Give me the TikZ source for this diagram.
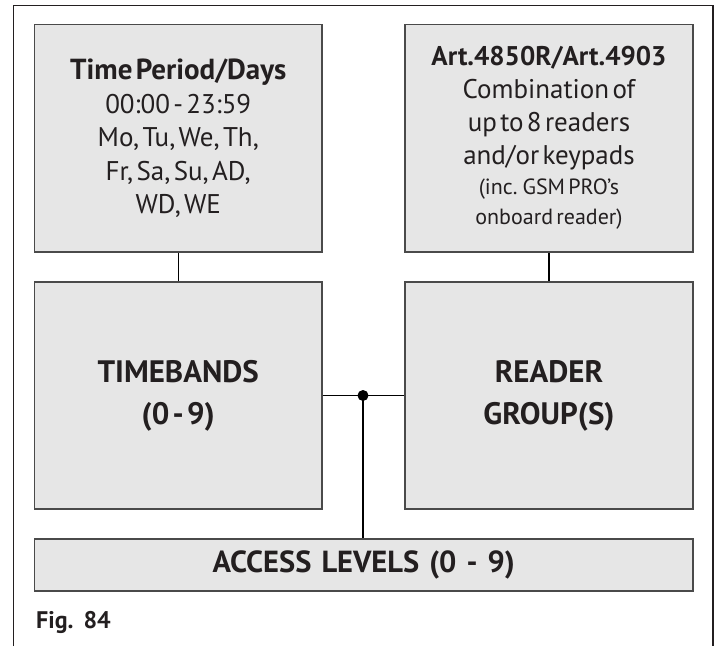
\documentclass[tikz,border=0pt]{standalone}
\usepackage{fontspec}
\setmainfont{PT Sans}[WordSpace=1.3]
\definecolor{boxfill}{HTML}{E6E6E6}
\definecolor{boxline}{HTML}{4A4A4A}
\definecolor{ink}{HTML}{231F20}
\begin{document}
\begin{tikzpicture}[x=1pt,y=-1pt,
  greybox/.style={draw=boxline, fill=boxfill, line width=1.3pt, inner sep=0pt,
    align=center, text=ink},
  wire/.style={draw=black, line width=1.3pt}]
\useasboundingbox (0,0) rectangle (718,646);
% outer frame (open at the bottom)
\draw[draw=ink, line width=1.2pt] (13.5,646) -- (13.5,5.5) -- (713,5.5) -- (713,646);
% boxes
\node[greybox, minimum width=287.5pt, minimum height=227.5pt, text width=270pt]
  (tl) at (178.25,138.25)
  {\fontsize{27}{33.5}\selectfont{\fontsize{29}{33.5}\selectfont\textbf{Time Period/Days}}\par
   00:00 - 23:59\par Mo, Tu, We, Th,\par Fr, Sa, Su, AD,\par WD, WE\par};
\node[greybox, minimum width=288pt, minimum height=227.5pt, text width=270pt]
  (tr) at (549,138.25)
  {\fontsize{27}{33}\selectfont\textbf{Art.4850R/Art.4903}\par
   Combination of\par up to 8 readers\par and/or keypads\par
   \fontsize{22}{30}\selectfont (inc. GSM PRO’s\par onboard reader)\par};
\node[greybox, minimum width=287.5pt, minimum height=227pt, text width=270pt]
  (ml) at (178.25,395.5)
  {\fontsize{31}{42}\selectfont\bfseries TIMEBANDS\par (0 - 9)\par};
\node[greybox, minimum width=288pt, minimum height=227pt, text width=270pt]
  (mr) at (549,395.5)
  {\fontsize{31}{42}\selectfont\bfseries READER\par GROUP(S)\par};
\node[greybox, minimum width=658.5pt, minimum height=52pt]
  (acc) at (363.75,565)
  {\fontsize{30.5}{36}\selectfont\bfseries ACCESS LEVELS (0 - 9)};
\node[anchor=base west, inner sep=0pt, text=ink] (fig) at (36,628)
  {\fontsize{24}{26}\selectfont\bfseries Fig. 84};
% connectors
\coordinate (j) at (363,395.5);
\draw[wire] (tl.south) -- (ml.north);
\draw[wire] (tr.south) -- (mr.north);
\draw[wire] (ml.east) -- (mr.west);
\draw[wire] (j) -- (j |- acc.north);
\fill[black] (j) circle (5.5pt);
\end{tikzpicture}
\end{document}
